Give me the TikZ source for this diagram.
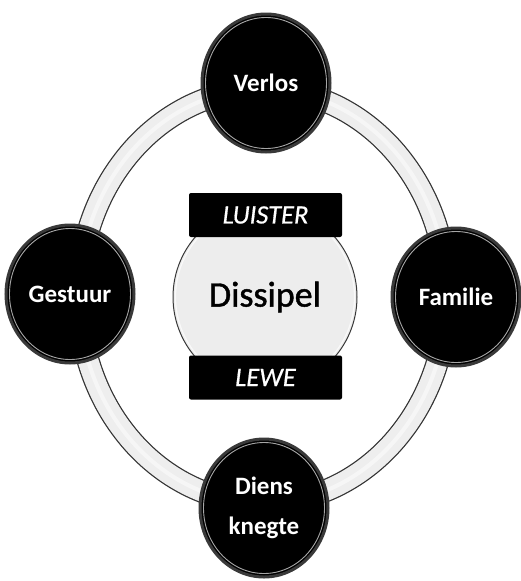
\documentclass[tikz,border=0pt]{standalone}
\usepackage{fontspec}
\setmainfont{Carlito}
\newfontfamily\hubfont[FakeBold=1.2]{Carlito}
\newfontfamily\bandfont[FakeBold=0.6]{Carlito}
\usetikzlibrary{shapes.geometric}
\tikzset{
  bub/.style={ellipse, fill=black, draw=gray!45!black, line width=3pt,
    minimum width=128pt, minimum height=138pt, inner sep=0pt,
    text=white, align=center, font=\fontsize{25}{40}\selectfont\bfseries},
  rim/.style={draw=gray!70, line width=0.9pt},
  band/.style={rectangle, fill=black, rounded corners=2pt, minimum width=153pt,
    minimum height=44pt, inner sep=0pt, text=white, font=\bandfont\fontsize{26.5}{30}\selectfont\itshape},
  hub/.style={circle, fill=gray!14, draw=gray!45!black, line width=1pt,
    minimum size=184pt, inner sep=0pt, font=\hubfont\fontsize{36}{40}\selectfont}
}
\begin{document}
\begin{tikzpicture}[x=1pt,y=-1pt]
\useasboundingbox (0,0) rectangle (520,581);
% ring
\coordinate (rc) at (263,296);
\draw[line width=23pt, gray!40!black] (rc) ellipse [x radius=184, y radius=207];
\draw[line width=20.5pt, gray!13] (rc) ellipse [x radius=184, y radius=207];
\draw[line width=4pt, white, opacity=0.5] (rc) ellipse [x radius=184, y radius=207];
% outer nodes
\node[bub] (verlos) at (266,83) {Verlos};
\node[bub] (gestuur) at (70,294) {Gestuur};
\node[bub] (familie) at (456,297) {Familie};
\node[bub] (diens) at (264,508) {Diens\\knegte};
\foreach \n in {verlos,gestuur,familie,diens}
  \draw[rim] (\n.center) ellipse [x radius=60.5, y radius=65.5];
% hub
\node[hub] (dissipel) at (265,297) {Dissipel};
\draw[white, line width=1.2pt, opacity=0.7] (dissipel.center) circle [radius=89.5];
\node[band] (luister) at (265.5,215) {LUISTER};
\node[band] (lewe) at (265.5,377.5) {LEWE};
\end{tikzpicture}
\end{document}
